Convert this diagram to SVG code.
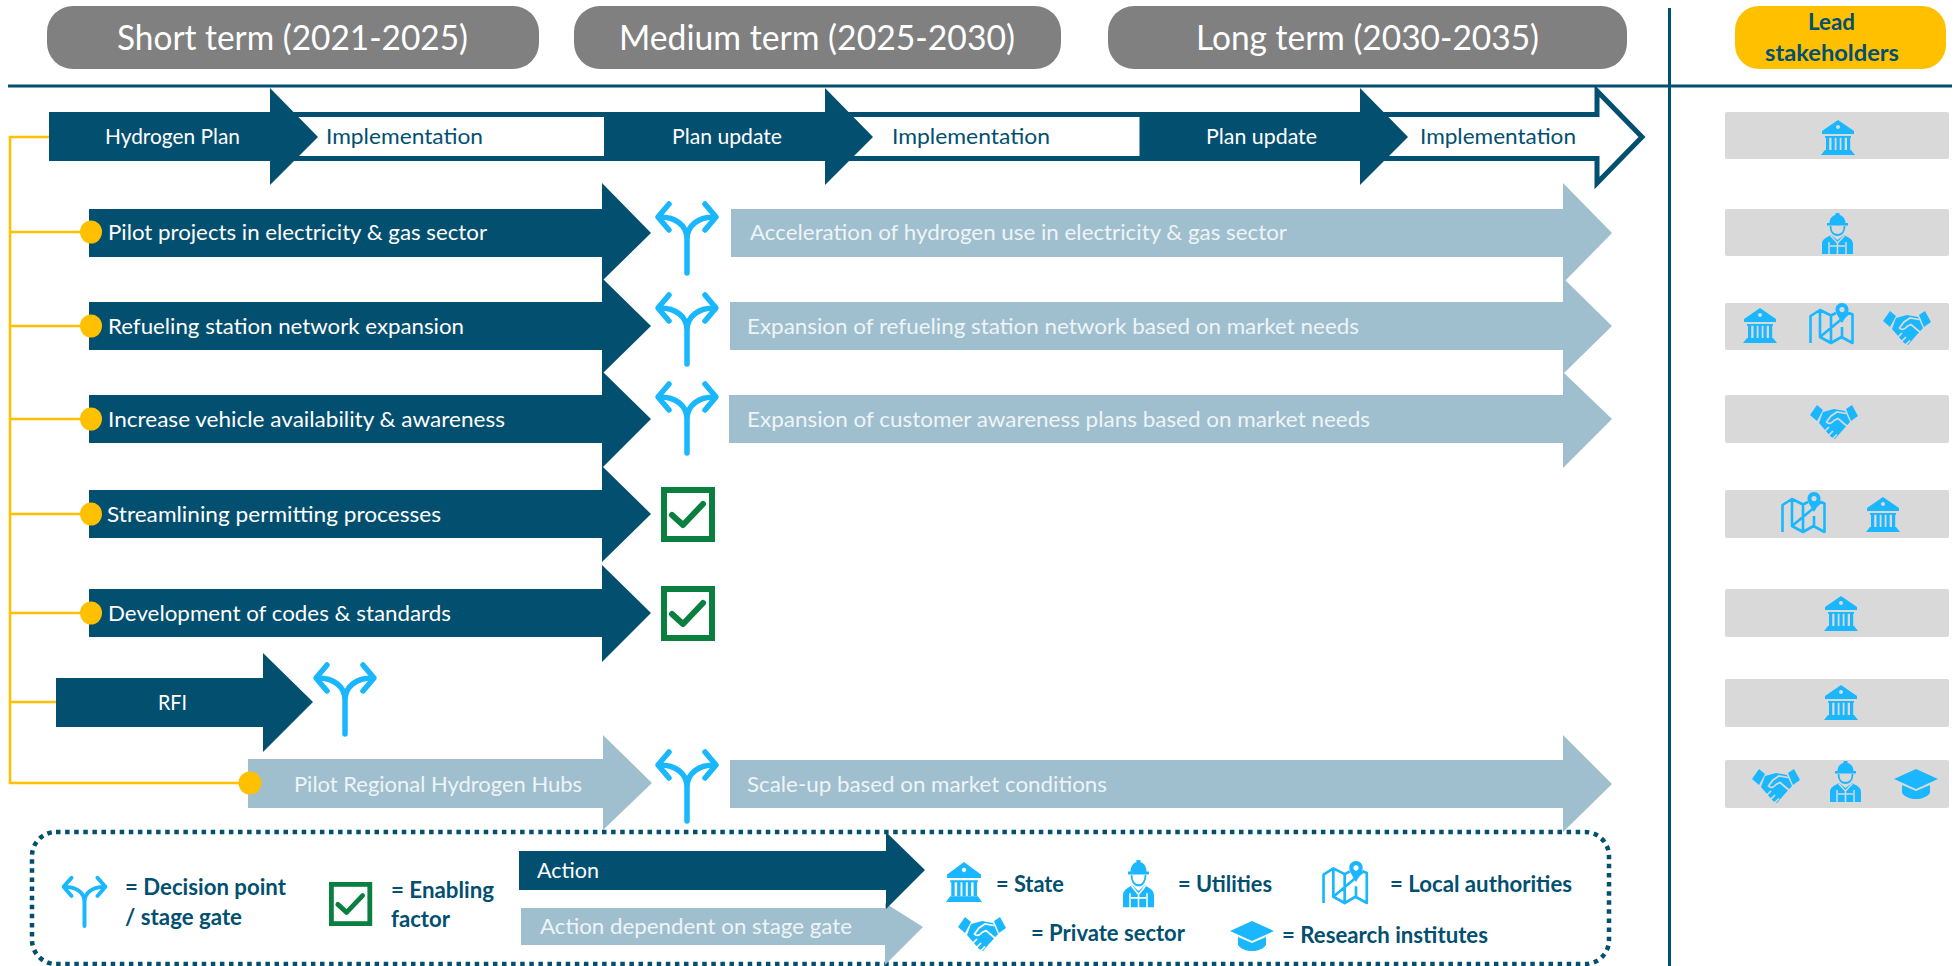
<svg xmlns="http://www.w3.org/2000/svg" width="1959" height="966" viewBox="0 0 1959 966">
<style>
text{font-family:"Lato","Open Sans","Liberation Sans",sans-serif}
.pill{fill:#808080}
.title{fill:#fff;font-size:35px}
.dark{fill:#034f70}
.light{fill:#9fbfce}
.box{fill:#d9d9d9}
.w{fill:#fff;font-size:22px}
.lw{fill:#eef4f7;font-size:22px}
.d{fill:#034f70;font-size:22px}
.b{fill:#034f70;font-size:22px;font-weight:700}
.wire{fill:none;stroke:#ffc000;stroke-width:2.5}
.dot{fill:#ffc000}
.ic{fill:#1ab7ff}
.ics{fill:none;stroke:#1ab7ff}
</style>
<defs>
<mask id="handsCut" maskUnits="userSpaceOnUse" x="-2" y="-2" width="54" height="40">
<rect x="-2" y="-2" width="54" height="40" fill="#fff"/>
<path d="M36 8.500 27 7 21 11 16.500 17C18.500 19.500 21.500 18.500 24 15.500L28 13.500 38 22M14 27 19 22M18 31 23 26M22 34.500 27 29.500" fill="none" stroke="#000" stroke-width="1.700"/>
</mask>
<mask id="workerCut" maskUnits="userSpaceOnUse" x="-2" y="-2" width="38" height="46">
<rect x="-2" y="-2" width="38" height="46" fill="#fff"/>
<path d="M8.500 22.500 15.500 30 22.500 22.500M15.500 30V42M8 33H23M7 29V42M24 29V42" fill="none" stroke="#000" stroke-width="1.500"/>
</mask>
<g id="fork" class="ics" stroke-width="5.500" stroke-linecap="round" stroke-linejoin="round">
<path d="M0 70V36C0 22-12 14-27 14M0 36C0 22 12 14 27 14M-18 1-29 14-18 27M18 1 29 14 18 27"/>
</g>
<g id="check">
<rect x="3" y="3" width="48" height="49" fill="#fff" stroke="#0a7f3f" stroke-width="6"/>
<path d="M11 28 22 38 42 17" fill="none" stroke="#0a7f3f" stroke-width="6" stroke-linecap="round" stroke-linejoin="round"/>
</g>
<g id="bank" class="ic">
<path fill-rule="evenodd" d="M17 0 33 11V14H1V11ZM17 5a2 2 0 1 0 .01 0Z"/>
<rect x="4" y="16" width="26" height="1.800"/>
<rect x="5" y="17" width="3.200" height="13"/><rect x="10.500" y="17" width="3.200" height="13"/><rect x="15.500" y="17" width="3.200" height="13"/><rect x="20.500" y="17" width="3.200" height="13"/><rect x="26" y="17" width="3.200" height="13"/>
<path d="M4 30H30L34 35H0Z"/>
</g>
<g id="map">
<path class="ics" stroke-width="2.600" stroke-linejoin="round" d="M1.500 40V13L11 7 22 12.500 27 10M40 10 43.500 11.500V40L32.500 34 22 40 11 34ZM11 7V34M22 12.500V40M33 24V34"/>
<path class="ic" fill-rule="evenodd" d="M33 0C37 0 39.500 3 39.500 6.500 39.500 10 36 15 33 20 30 15 26.500 10 26.500 6.500 26.500 3 29 0 33 0ZM33 4a2.600 2.600 0 1 0 .01 0Z"/>
</g>
<g id="hands" class="ic">
<path d="M0 10 7 0 13 5 7 16ZM36 4 42 0 48 11 41 16Z"/>
<path mask="url(#handsCut)" d="M13 7 24 4 35 6 40 17 31 27 25 34 21 32 9 18Z"/>
</g>
<g id="worker" class="ic">
<path d="M13.500 0H17.500V2C21 2.500 23.500 6 23.500 10H26V12.500H5V10H7.500C7.500 6 10 2.500 13.500 2Z"/>
<path class="ics" stroke-width="1.800" d="M8.500 13C8.500 18 11 22 15.500 22S22.500 18 22.500 13"/>
<path mask="url(#workerCut)" d="M0 41V31C0 26 4 25 9 22L15.500 27 22 22C27 25 31 26 31 31V41Z"/>
</g>
<g id="cap" class="ic">
<path d="M22 0 44 10 22 20 0 10ZM8 16 22 22 36 16V24C30 32 14 32 8 24Z"/>
</g>
</defs>
<rect width="1959" height="966" fill="#fff"/>

<g id="header">
<rect class="pill" x="47" y="6" width="492" height="63" rx="26"/>
<text class="title" x="117" y="50" textLength="351" lengthAdjust="spacingAndGlyphs">Short term (2021-2025)</text>
<rect class="pill" x="574" y="6" width="487" height="63" rx="26"/>
<text class="title" x="619" y="50" textLength="396" lengthAdjust="spacingAndGlyphs">Medium term (2025-2030)</text>
<rect class="pill" x="1108" y="6" width="519" height="63" rx="26"/>
<text class="title" x="1196" y="50" textLength="343" lengthAdjust="spacingAndGlyphs">Long term (2030-2035)</text>
<rect x="1735" y="6" width="211" height="63" rx="24" fill="#ffc000"/>
<text class="b" x="1808" y="30" textLength="47" lengthAdjust="spacingAndGlyphs">Lead</text>
<text class="b" x="1765" y="61" textLength="134" lengthAdjust="spacingAndGlyphs">stakeholders</text>
</g>
<g id="rules" fill="#034f70">
<rect x="8" y="84.500" width="1944" height="3"/>
<rect x="1668" y="8" width="3" height="958"/>
</g>

<g id="connectors">
<path class="wire" d="M50 137H10V783H245M10 232H90M10 326H90M10 419H90M10 514H90M10 613H90M10 702H58"/>
</g>

<g id="plan">
<path d="M1360 114.500H1597V91L1642 137 1597 183V158.500H1360Z" fill="#fff" stroke="#034f70" stroke-width="5"/>
<path d="M285 114.500H610V158.500H285Z" fill="#fff" stroke="#034f70" stroke-width="5"/>
<path d="M840 114.500H1142V158.500H840Z" fill="#fff" stroke="#034f70" stroke-width="5"/>
<path class="dark" d="M49 112H270V88L318 137 270 185V161H49Z"/>
<path class="dark" d="M604 112H825V88L873 137 825 185V161H604Z"/>
<path class="dark" d="M1140 112H1360V88L1408 137 1360 185V161H1140Z"/>
<text class="w" x="105" y="144" textLength="135" lengthAdjust="spacingAndGlyphs">Hydrogen Plan</text>
<text class="d" x="326" y="144" textLength="157" lengthAdjust="spacingAndGlyphs">Implementation</text>
<text class="w" x="672" y="144" textLength="110" lengthAdjust="spacingAndGlyphs">Plan update</text>
<text class="d" x="892" y="144" textLength="158" lengthAdjust="spacingAndGlyphs">Implementation</text>
<text class="w" x="1206" y="144" textLength="111" lengthAdjust="spacingAndGlyphs">Plan update</text>
<text class="d" x="1420" y="144" textLength="156" lengthAdjust="spacingAndGlyphs">Implementation</text>
</g>

<g id="later-actions">
<path class="light" d="M731 209H1563V183L1612 233 1563 283V257H731Z"/>
<path class="light" d="M730 302H1563V278L1612 326 1563 374V350H730Z"/>
<path class="light" d="M729 395H1563V372L1612 419 1563 468V443H729Z"/>
<path class="light" d="M730 760H1563V735L1612 784 1563 832V808H730Z"/>
<text class="lw" x="750" y="240" textLength="537" lengthAdjust="spacingAndGlyphs">Acceleration of hydrogen use in electricity &amp; gas sector</text>
<text class="lw" x="747" y="334" textLength="612" lengthAdjust="spacingAndGlyphs">Expansion of refueling station network based on market needs</text>
<text class="lw" x="747" y="427" textLength="623" lengthAdjust="spacingAndGlyphs">Expansion of customer awareness plans based on market needs</text>
<text class="lw" x="747" y="792" textLength="360" lengthAdjust="spacingAndGlyphs">Scale-up based on market conditions</text>
</g>

<g id="action-pilot"><path class="dark" d="M89 209H602V183L651 233 602 281V257H89Z"/>
<text class="w" x="108" y="240" textLength="379" lengthAdjust="spacingAndGlyphs">Pilot projects in electricity &amp; gas sector</text></g>
<g id="action-refueling"><path class="dark" d="M89 302H602V278L651 326 602 374V350H89Z"/>
<text class="w" x="108" y="334" textLength="356" lengthAdjust="spacingAndGlyphs">Refueling station network expansion</text></g>
<g id="action-vehicle"><path class="dark" d="M89 395H602V371L651 419 602 468V443H89Z"/>
<text class="w" x="108" y="427" textLength="397" lengthAdjust="spacingAndGlyphs">Increase vehicle availability &amp; awareness</text></g>
<g id="action-permitting"><path class="dark" d="M89 490H602V466L651 514 602 562V538H89Z"/>
<text class="w" x="107" y="522" textLength="334" lengthAdjust="spacingAndGlyphs">Streamlining permitting processes</text></g>
<g id="action-codes"><path class="dark" d="M89 589H602V565L651 613 602 662V637H89Z"/>
<text class="w" x="108" y="621" textLength="343" lengthAdjust="spacingAndGlyphs">Development of codes &amp; standards</text></g>
<g id="action-rfi"><path class="dark" d="M56 678H263V653L313 702 263 752V727H56Z"/>
<text class="w" x="158" y="710" textLength="29" lengthAdjust="spacingAndGlyphs">RFI</text></g>
<g id="action-hubs"><path class="light" d="M248 759H603V735L652 783 603 830V808H248Z"/>
<text class="lw" x="294" y="792" textLength="288" lengthAdjust="spacingAndGlyphs">Pilot Regional Hydrogen Hubs</text></g>

<g id="dots">
<ellipse class="dot" cx="91" cy="232" rx="11" ry="11.500"/>
<ellipse class="dot" cx="91" cy="326" rx="11" ry="11.500"/>
<ellipse class="dot" cx="91" cy="419" rx="11" ry="11.500"/>
<ellipse class="dot" cx="91" cy="514" rx="11" ry="11.500"/>
<ellipse class="dot" cx="91" cy="613" rx="11" ry="11.500"/>
<ellipse class="dot" cx="250" cy="783" rx="11.500" ry="11.500"/>
</g>

<g id="gates">
<use href="#fork" transform="translate(687 203)"/>
<use href="#fork" transform="translate(687 294)"/>
<use href="#fork" transform="translate(687 383)"/>
<use href="#fork" transform="translate(687 751)"/>
<use href="#fork" transform="translate(345 664)"/>
<use href="#check" transform="translate(661 487)"/>
<use href="#check" transform="translate(661 586)"/>
</g>

<g id="stakeholders">
<rect class="box" x="1725" y="112" width="224" height="47" rx="2"/>
<rect class="box" x="1725" y="209" width="224" height="47" rx="2"/>
<rect class="box" x="1725" y="303" width="224" height="47" rx="2"/>
<rect class="box" x="1725" y="395" width="224" height="48" rx="2"/>
<rect class="box" x="1725" y="490" width="224" height="48" rx="2"/>
<rect class="box" x="1725" y="589" width="224" height="48" rx="2"/>
<rect class="box" x="1725" y="679" width="224" height="48" rx="2"/>
<rect class="box" x="1725" y="760" width="224" height="48" rx="2"/>
<use href="#bank" transform="translate(1821 120)"/>
<use href="#worker" transform="translate(1822 213)"/>
<use href="#bank" transform="translate(1743 308)"/>
<use href="#map" transform="translate(1809 303)"/>
<use href="#hands" transform="translate(1883 311)"/>
<use href="#hands" transform="translate(1810 405)"/>
<use href="#map" transform="translate(1781 492)"/>
<use href="#bank" transform="translate(1866 497)"/>
<use href="#bank" transform="translate(1824 596)"/>
<use href="#bank" transform="translate(1824 685)"/>
<use href="#hands" transform="translate(1752 769)"/>
<use href="#worker" transform="translate(1830 761)"/>
<use href="#cap" transform="translate(1894 769)"/>
</g>

<g id="legend">
<rect x="32" y="832" width="1577" height="132" rx="24" fill="none" stroke="#034f70" stroke-width="4.500" stroke-dasharray="4.500 4.600"/>
<use href="#fork" transform="translate(84.500 877) scale(.72 .7)"/>
<text class="b" x="125" y="895" textLength="161" lengthAdjust="spacingAndGlyphs">= Decision point</text>
<text class="b" x="125" y="925" textLength="117" lengthAdjust="spacingAndGlyphs">/ stage gate</text>
<use href="#check" transform="translate(329 882) scale(.8)"/>
<text class="b" x="391" y="898" textLength="103" lengthAdjust="spacingAndGlyphs">= Enabling</text>
<text class="b" x="391" y="927" textLength="59" lengthAdjust="spacingAndGlyphs">factor</text>
<path class="light" d="M521 908H885V903L923 927 885 965V945H521Z"/>
<path class="dark" d="M519 851H886V832L925 870 886 909V890H519Z"/>
<text class="w" x="537" y="878" textLength="62" lengthAdjust="spacingAndGlyphs">Action</text>
<text class="lw" x="540" y="934" textLength="312" lengthAdjust="spacingAndGlyphs">Action dependent on stage gate</text>
<use href="#bank" transform="translate(946 862) scale(1.06 1.14)"/>
<text class="b" x="996" y="892" textLength="68" lengthAdjust="spacingAndGlyphs">= State</text>
<use href="#worker" transform="translate(1123 860) scale(1 1.15)"/>
<text class="b" x="1178" y="892" textLength="94" lengthAdjust="spacingAndGlyphs">= Utilities</text>
<use href="#map" transform="translate(1322 861) scale(1.03 1.05)"/>
<text class="b" x="1390" y="892" textLength="182" lengthAdjust="spacingAndGlyphs">= Local authorities</text>
<use href="#hands" transform="translate(958 917)"/>
<text class="b" x="1031" y="941" textLength="154" lengthAdjust="spacingAndGlyphs">= Private sector</text>
<use href="#cap" transform="translate(1230 921)"/>
<text class="b" x="1282" y="943" textLength="206" lengthAdjust="spacingAndGlyphs">= Research institutes</text>
</g>
</svg>
